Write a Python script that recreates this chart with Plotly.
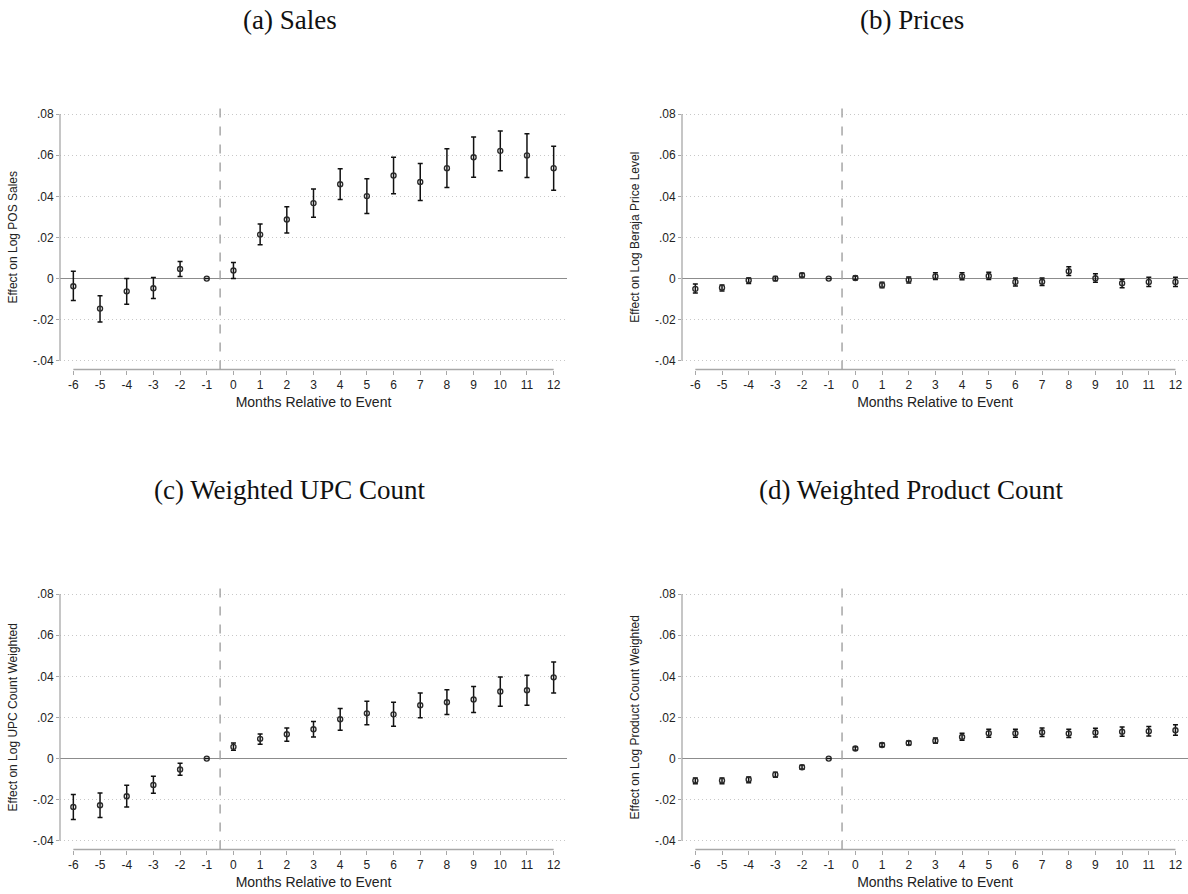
import plotly.graph_objects as go

# Event-study coefficients with 95% confidence bounds, months -6..12 (month -1 is the omitted base)
months = [-6, -5, -4, -3, -2, -1, 0, 1, 2, 3, 4, 5, 6, 7, 8, 9, 10, 11, 12]

sales_coef = [-0.0037, -0.0146, -0.0062, -0.0047, 0.0047, 0.0, 0.0039, 0.0214, 0.0287, 0.0367,
              0.0459, 0.0401, 0.0501, 0.0470, 0.0537, 0.0590, 0.0621, 0.0599, 0.0537]
sales_lo = [-0.0107, -0.0211, -0.0125, -0.0097, 0.0010, 0.0, 0.0000, 0.0164, 0.0222, 0.0298,
            0.0384, 0.0316, 0.0412, 0.0380, 0.0443, 0.0493, 0.0524, 0.0491, 0.0430]
sales_hi = [0.0036, -0.0083, 0.0000, 0.0005, 0.0083, 0.0, 0.0078, 0.0266, 0.0349, 0.0436,
            0.0534, 0.0485, 0.0590, 0.0560, 0.0631, 0.0688, 0.0717, 0.0704, 0.0644]

price_coef = [-0.0050, -0.0044, -0.0008, 0.0000, 0.0016, 0.0, 0.0003, -0.0031, -0.0006, 0.0011,
              0.0011, 0.0013, -0.0016, -0.0015, 0.0036, 0.0002, -0.0023, -0.0016, -0.0016]
price_lo = [-0.0070, -0.0060, -0.0024, -0.0010, 0.0006, 0.0, -0.0006, -0.0044, -0.0021, -0.0005,
            -0.0006, -0.0005, -0.0036, -0.0034, 0.0015, -0.0018, -0.0044, -0.0039, -0.0039]
price_hi = [-0.0026, -0.0031, 0.0003, 0.0010, 0.0026, 0.0, 0.0013, -0.0018, 0.0008, 0.0028,
            0.0029, 0.0031, 0.0003, 0.0003, 0.0057, 0.0023, -0.0003, 0.0006, 0.0006]

upc_coef = [-0.0235, -0.0227, -0.0183, -0.0128, -0.0053, 0.0, 0.0057, 0.0096, 0.0118, 0.0143,
            0.0191, 0.0220, 0.0215, 0.0259, 0.0274, 0.0287, 0.0326, 0.0332, 0.0395]
upc_lo = [-0.0296, -0.0287, -0.0235, -0.0168, -0.0081, 0.0, 0.0040, 0.0070, 0.0084, 0.0105,
          0.0138, 0.0164, 0.0157, 0.0199, 0.0214, 0.0224, 0.0254, 0.0259, 0.0319]
upc_hi = [-0.0175, -0.0167, -0.0130, -0.0086, -0.0023, 0.0, 0.0076, 0.0120, 0.0149, 0.0180,
          0.0243, 0.0279, 0.0274, 0.0319, 0.0335, 0.0350, 0.0397, 0.0405, 0.0470]

prod_coef = [-0.0107, -0.0107, -0.0102, -0.0078, -0.0042, 0.0, 0.0049, 0.0066, 0.0076, 0.0087,
             0.0105, 0.0123, 0.0123, 0.0128, 0.0122, 0.0127, 0.0131, 0.0133, 0.0138]
prod_lo = [-0.0122, -0.0122, -0.0117, -0.0091, -0.0052, 0.0, 0.0040, 0.0057, 0.0066, 0.0075,
           0.0089, 0.0104, 0.0104, 0.0107, 0.0102, 0.0105, 0.0109, 0.0110, 0.0114]
prod_hi = [-0.0094, -0.0094, -0.0089, -0.0066, -0.0032, 0.0, 0.0057, 0.0076, 0.0086, 0.0100,
           0.0123, 0.0143, 0.0143, 0.0149, 0.0143, 0.0148, 0.0154, 0.0156, 0.0164]

panel_titles = ["(a) Sales", "(b) Prices", "(c) Weighted UPC Count", "(d) Weighted Product Count"]
y_titles = ["Effect on Log POS Sales", "Effect on Log Beraja Price Level",
            "Effect on Log UPC Count Weighted", "Effect on Log Product Count Weighted"]
x_title = "Months Relative to Event"
y_tickvals = [-0.04, -0.02, 0, 0.02, 0.04, 0.06, 0.08]
y_ticktext = ["-.04", "-.02", "0", ".02", ".04", ".06", ".08"]

series = [(sales_coef, sales_lo, sales_hi), (price_coef, price_lo, price_hi),
          (upc_coef, upc_lo, upc_hi), (prod_coef, prod_lo, prod_hi)]

W, H = 1188, 894
# panel boxes in pixels: (left, right, top, bottom)
boxes = [(60, 567, 105, 369.5), (682, 1188, 105, 369.5),
         (60, 567, 585, 849.5), (682, 1188, 585, 849.5)]
x_ranges = [[-6.5, 12.5], [-6.5, 12.47], [-6.5, 12.5], [-6.5, 12.47]]
y_range = [-0.0442, 0.0844]
title_pos = [(290, 20), (912, 20), (290, 490), (912, 490)]

AX_COL = "#a8a8a8"
TXT_COL = "#222222"
SANS = "Liberation Sans, Arial, sans-serif"

fig = go.Figure()
shapes = []
annotations = []

for i, ((coef, lo, hi), box) in enumerate(zip(series, boxes)):
    n = "" if i == 0 else str(i + 1)
    xa, ya = "x" + n, "y" + n
    err_plus = [None if h == l else h - c for c, l, h in zip(coef, lo, hi)]
    err_minus = [None if h == l else c - l for c, l, h in zip(coef, lo, hi)]
    fig.add_trace(go.Scatter(
        x=months, y=coef, mode="markers", xaxis=xa, yaxis=ya, showlegend=False,
        marker=dict(symbol="circle-open", size=5, color="#2a2a2a", line=dict(width=1.4)),
        error_y=dict(type="data", array=err_plus, arrayminus=err_minus, visible=True,
                     color="#111111", thickness=1.5, width=2.5),
    ))
    left, right, top, bottom = box
    dom_x = [left / W, right / W]
    dom_y = [1 - bottom / H, 1 - top / H]
    fig.layout["xaxis" + n] = dict(
        domain=dom_x, range=x_ranges[i], anchor=ya, showgrid=False, zeroline=False,
        showline=False, tickmode="array", tickvals=months, ticktext=[str(m) for m in months],
        ticks="outside", ticklen=4, tickwidth=1.2, tickcolor=AX_COL,
        tickfont=dict(family=SANS, size=12, color=TXT_COL),
        title=dict(text=x_title, font=dict(family=SANS, size=14, color=TXT_COL), standoff=6),
        automargin=False, fixedrange=True,
    )
    fig.layout["yaxis" + n] = dict(
        domain=dom_y, range=y_range, anchor=xa, showline=False,
        showgrid=True, gridcolor="#c8c8c8", griddash="1px,3px", gridwidth=1,
        zeroline=True, zerolinecolor="#8c8c8c", zerolinewidth=1.4,
        tickmode="array", tickvals=y_tickvals, ticktext=y_ticktext,
        ticks="outside", ticklen=3, tickwidth=1.2, tickcolor=AX_COL,
        tickfont=dict(family=SANS, size=12, color=TXT_COL),
        title=dict(text=y_titles[i], font=dict(family=SANS, size=12, color=TXT_COL), standoff=12),
        automargin=False, fixedrange=True,
    )
    # y-axis line spanning the labelled range only
    shapes.append(dict(type="line", xref=xa + " domain", yref=ya, x0=0, x1=0,
                       y0=-0.04, y1=0.08, line=dict(color=AX_COL, width=1.3)))
    # x-axis line spanning the month range only
    shapes.append(dict(type="line", xref=xa, yref=ya + " domain", x0=-6, x1=12,
                       y0=0, y1=0, line=dict(color=AX_COL, width=1.3)))
    # event marker between month -1 and month 0
    shapes.append(dict(type="line", xref=xa, yref=ya + " domain", x0=-0.5, x1=-0.5,
                       y0=0, y1=1, line=dict(color="#a0a0a0", width=1.4, dash="dash")))
    tx, ty = title_pos[i]
    annotations.append(dict(text=panel_titles[i], xref="paper", yref="paper",
                            x=tx / W, y=1 - ty / H, xanchor="center", yanchor="middle",
                            showarrow=False,
                            font=dict(family="Liberation Serif, Times New Roman, serif",
                                      size=27, color="#111111")))

fig.update_layout(
    width=W, height=H, margin=dict(l=0, r=0, t=0, b=0),
    paper_bgcolor="white", plot_bgcolor="white",
    shapes=shapes, annotations=annotations,
)

fig.write_html("out.html")
